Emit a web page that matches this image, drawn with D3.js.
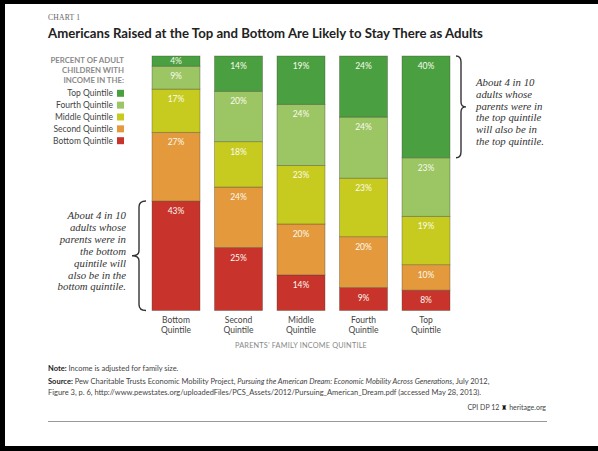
<!DOCTYPE html>
<html><head><meta charset="utf-8">
<script src="https://cdn.jsdelivr.net/npm/d3@7"></script>
<style>
html,body{margin:0;padding:0;background:#fff;}
svg{display:block;}
</style></head>
<body>
<svg id="c" width="598" height="451"></svg>
<script>
const categories = ["Bottom Quintile","Second Quintile","Middle Quintile","Fourth Quintile","Top Quintile"];
const bottomQuintile = [43,25,14,9,8];
const secondQuintile = [27,24,20,20,10];
const middleQuintile = [17,18,23,23,19];
const fourthQuintile = [9,20,24,24,23];
const topQuintile = [4,14,19,24,40];
const seriesNames = ["Bottom Quintile","Second Quintile","Middle Quintile","Fourth Quintile","Top Quintile"];
const seriesColors = ["#c8332b","#e3993c","#c7cb20","#9cc563","#4aa040"];
const legendOrder = ["Top Quintile","Fourth Quintile","Middle Quintile","Second Quintile","Bottom Quintile"];

const seriesValues = [bottomQuintile, secondQuintile, middleQuintile, fourthQuintile, topQuintile];
const table = categories.map((c,i)=>{
  const o={category:c};
  seriesNames.forEach((s,j)=>o[s]=seriesValues[j][i]);
  return o;
});

const svg = d3.select("#c");
const sans = "Lato, 'Open Sans', sans-serif";
const serif = "'Liberation Serif', serif";

// frame
svg.append("rect").attr("x",0).attr("y",0).attr("width",598).attr("height",4).attr("fill","#000");
svg.append("rect").attr("x",0).attr("y",0).attr("width",5).attr("height",451).attr("fill","#000");
svg.append("rect").attr("x",0).attr("y",446).attr("width",598).attr("height",5).attr("fill","#000");

// headings
svg.append("text").attr("x",48).attr("y",20).attr("font-family",serif).attr("font-size",7.6)
  .attr("fill","#666").attr("letter-spacing","0.2").text("CHART 1");
svg.append("text").attr("x",48).attr("y",38).attr("font-family",sans).attr("font-weight","bold")
  .attr("font-size",13.2).attr("fill","#222").text("Americans Raised at the Top and Bottom Are Likely to Stay There as Adults");

const x = d3.scaleBand().domain(categories).range([152,450]).paddingInner(0.232).paddingOuter(0);
const y = d3.scaleLinear().domain([0,1]).range([310.5,56]);
const color = d3.scaleOrdinal().domain(seriesNames).range(seriesColors);

const stacked = d3.stack().keys(seriesNames).offset(d3.stackOffsetExpand)(table);

const g = svg.append("g");
stacked.forEach(layer=>{
  layer.forEach(d=>{
    const y0=y(d[1]), y1=y(d[0]);
    g.append("rect").attr("x",x(d.data.category)).attr("y",y0)
      .attr("width",x.bandwidth()).attr("height",y1-y0)
      .attr("fill",color(layer.key)).attr("stroke","rgba(70,70,50,0.45)").attr("stroke-width",0.8);
    const h=y1-y0;
    g.append("text").attr("x",x(d.data.category)+x.bandwidth()/2).attr("y",y0+Math.min(10,h/2)+3)
      .attr("text-anchor","middle").attr("font-family",sans).attr("font-size",8.5)
      .attr("fill","#fbfbef").text(d.data[layer.key]+"%");
  });
});

// category labels
categories.forEach(c=>{
  const parts=c.split(" ");
  const t=svg.append("text").attr("x",x(c)+x.bandwidth()/2).attr("y",323).attr("text-anchor","middle")
    .attr("font-family",sans).attr("font-size",8.5).attr("fill","#444");
  t.append("tspan").attr("x",x(c)+x.bandwidth()/2).attr("dy",0).text(parts[0]);
  t.append("tspan").attr("x",x(c)+x.bandwidth()/2).attr("dy",9.5).text(parts[1]);
});
svg.append("text").attr("x",301).attr("y",348).attr("text-anchor","middle").attr("font-family",sans)
  .attr("font-size",7.3).attr("fill","#888").attr("letter-spacing","0.2").text("PARENTS’ FAMILY INCOME QUINTILE");

// legend
["PERCENT OF ADULT","CHILDREN WITH","INCOME IN THE:"].forEach((s,i)=>{
  svg.append("text").attr("x",124).attr("y",63+i*10).attr("text-anchor","end").attr("font-family",sans)
    .attr("font-size",7.8).attr("font-weight","bold").attr("fill","#8a8a8a").text(s);
});
legendOrder.forEach((s,i)=>{
  const cy=93.3+i*11.85;
  svg.append("rect").attr("x",117).attr("y",cy-3.5).attr("width",7).attr("height",7).attr("fill",color(s));
  svg.append("text").attr("x",113).attr("y",cy+3).attr("text-anchor","end").attr("font-family",sans)
    .attr("font-size",8.5).attr("fill","#444").text(s);
});

// braces
function brace(xEdge, xTip, yTop, yBot){
  const p=d3.path();
  const ym=(yTop+yBot)/2, xm=(xEdge+xTip)/2;
  p.moveTo(xEdge,yTop);
  p.quadraticCurveTo(xm,yTop,xm,yTop+6);
  p.lineTo(xm,ym-5);
  p.quadraticCurveTo(xm,ym,xTip,ym);
  p.quadraticCurveTo(xm,ym,xm,ym+5);
  p.lineTo(xm,yBot-6);
  p.quadraticCurveTo(xm,yBot,xEdge,yBot);
  return p.toString();
}
const xTop = x("Top Quintile")+x.bandwidth();
svg.append("path").attr("d",brace(xTop+6,xTop+16,y(1),y(0.6))).attr("fill","none").attr("stroke","#333").attr("stroke-width",1.4);
const xBot = x("Bottom Quintile");
svg.append("path").attr("d",brace(xBot-6,xBot-20,y(0.43),y(0))).attr("fill","none").attr("stroke","#333").attr("stroke-width",1.4);

const rightNote=["About 4 in 10","adults whose","parents were in","the top quintile","will also be in","the top quintile."];
rightNote.forEach((s,i)=>{
  svg.append("text").attr("x",476).attr("y",86+i*11.8).attr("font-family",serif).attr("font-style","italic")
    .attr("font-size",10.8).attr("fill","#333").text(s);
});
const leftNote=["About 4 in 10","adults whose","parents were in","the bottom","quintile will","also be in the","bottom quintile."];
leftNote.forEach((s,i)=>{
  svg.append("text").attr("x",126).attr("y",219+i*11.9).attr("text-anchor","end").attr("font-family",serif).attr("font-style","italic")
    .attr("font-size",10.8).attr("fill","#333").text(s);
});

// footnotes
const fs=7.5;
const n=svg.append("text").attr("x",48).attr("y",371).attr("font-family",sans).attr("font-size",fs).attr("fill","#444");
n.append("tspan").attr("font-weight","bold").attr("fill","#222").text("Note: ");
n.append("tspan").text("Income is adjusted for family size.");
const s1=svg.append("text").attr("x",48).attr("y",384).attr("font-family",sans).attr("font-size",fs).attr("fill","#444");
s1.append("tspan").attr("font-weight","bold").attr("fill","#222").text("Source: ");
s1.append("tspan").text("Pew Charitable Trusts Economic Mobility Project, ");
s1.append("tspan").attr("font-style","italic").text("Pursuing the American Dream: Economic Mobility Across Generations");
s1.append("tspan").text(", July 2012,");
svg.append("text").attr("x",48).attr("y",395).attr("font-family",sans).attr("font-size",fs).attr("fill","#444")
  .text("Figure 3, p. 6, http://www.pewstates.org/uploadedFiles/PCS_Assets/2012/Pursuing_American_Dream.pdf (accessed May 28, 2013).");
const cr=svg.append("text").attr("x",546).attr("y",410).attr("text-anchor","end").attr("font-family",sans).attr("font-size",7).attr("fill","#444");
cr.append("tspan").text("CPI DP 12 ");
cr.append("tspan").attr("font-family","'DejaVu Sans'").attr("fill","#111").text("♜");
cr.append("tspan").text(" heritage.org");
svg.append("line").attr("x1",48).attr("x2",547).attr("y1",421.5).attr("y2",421.5).attr("stroke","#999").attr("stroke-width",1);
</script>
</body></html>
